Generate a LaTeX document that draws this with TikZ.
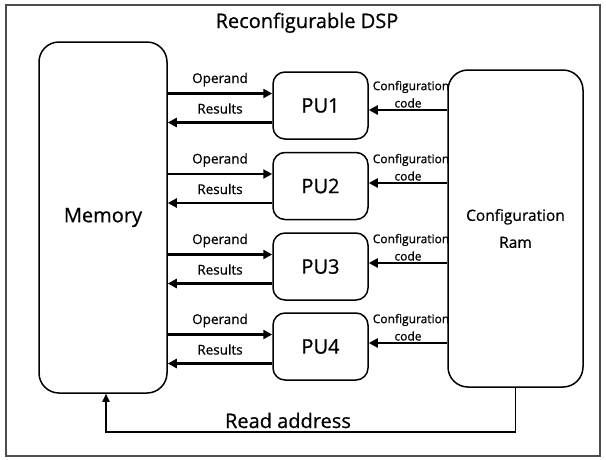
\documentclass[tikz,border=0pt]{standalone}
\usepackage{fontspec}
\setmainfont{Open Sans}[FakeBold=0.7]
\usetikzlibrary{arrows.meta,calc}
\begin{document}
\begin{tikzpicture}[x=1pt,y=-1pt,
  bigbox/.style={draw=black, line width=1.5pt, rounded corners=20pt, align=center, inner sep=0pt},
  pubox/.style={draw=black, line width=1.5pt, rounded corners=12pt, minimum width=95pt, minimum height=67pt, inner sep=0pt, font=\fontsize{20}{24}\selectfont},
  arr/.style={line width=2.8pt, -{Triangle[length=9pt,width=9pt]}},
  smalltxt/.style={font=\fontsize{13.5}{16}\selectfont, inner sep=0pt},
  tinytxt/.style={font=\fontsize{12}{14}\selectfont, inner sep=0pt}]
\useasboundingbox (0,0) rectangle (606,459);
\draw[line width=1.2pt, draw=black!70] (6,5) rectangle (600,456);
\node[font=\fontsize{20}{24}\selectfont, anchor=base, inner sep=0pt] (title) at (307,28) {Reconfigurable DSP};
\node[bigbox, minimum width=128pt, minimum height=351pt, font=\fontsize{20}{24}\selectfont] (mem) at (103,217.5) {Memory};
\node[bigbox, minimum width=135pt, minimum height=317pt, font=\fontsize{15.5}{27}\selectfont] (cfg) at (515.5,228.5) {Configuration\\Ram};
\foreach \i/\cy/\ca in {1/105.5/4.5,2/186/-3,3/266.5/-3.5,4/346.5/-3.5}{
  \node[pubox] (p\i) at (320.5,\cy) {PU\i};
  \coordinate (op\i) at ($(p\i.west)+(0,-12)$);
  \coordinate (rs\i) at ($(p\i.west)+(0,17)$);
  \coordinate (cc\i) at ($(p\i.east)+(0,\ca)$);
  \draw[arr] (mem.east |- op\i) -- (op\i);
  \draw[arr] (rs\i) -- (mem.east |- rs\i);
  \draw[arr] (cfg.west |- cc\i) -- (cc\i);
  \node[smalltxt] (ol\i) at (220,\cy-26) {Operand};
  \node[smalltxt] (rl\i) at (220,\cy+3) {Results};
  \node[tinytxt] (cl\i) at (411,\cy+\ca-23) {Configuration};
  \node[tinytxt] (kl\i) at (408,\cy+\ca-7) {code};
}
\coordinate (ra) at (106,432);
\draw[line width=1.8pt, -{Triangle[length=8pt,width=7pt]}] (cfg.south) -- (cfg.south |- ra) -- (ra) -- (mem.south -| ra);
\node[font=\fontsize{20}{24}\selectfont, anchor=base, inner sep=0pt] (rdlbl) at (288,428) {Read address};
\end{tikzpicture}
\end{document}
